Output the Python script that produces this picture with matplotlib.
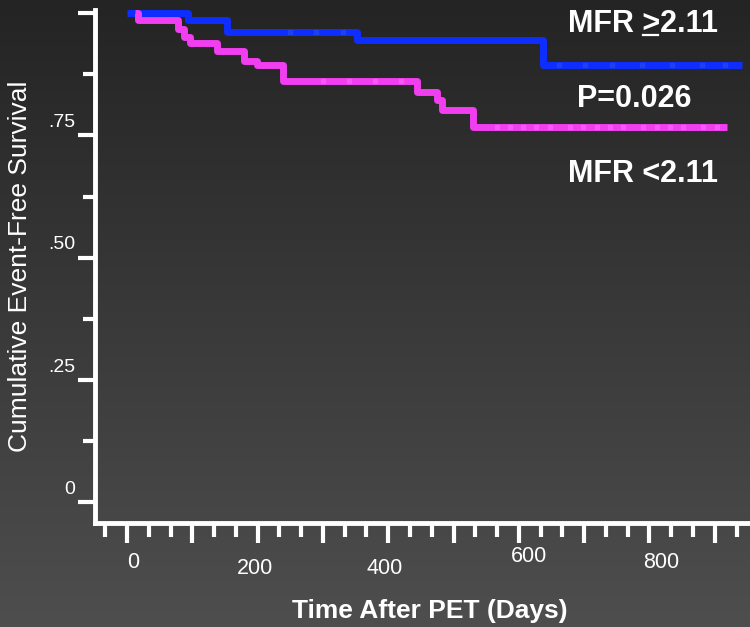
import numpy as np
import matplotlib
matplotlib.use('Agg')
import matplotlib.pyplot as plt
import matplotlib.transforms as mtransforms
from matplotlib.colors import LinearSegmentedColormap
from matplotlib.lines import Line2D

plt.rcParams['font.family'] = ['Liberation Sans', 'DejaVu Sans']

# ---------------- data ----------------
high_times = [0, 93, 153, 352, 637, 942]
high_surv = [1.0, 0.986, 0.961, 0.945, 0.894, 0.894]
high_censor = [250, 290, 330, 661, 701, 742, 788, 834, 880, 915]

low_times = [12, 17, 78, 88, 96, 138, 179, 199, 239, 444, 475, 482, 530, 919]
low_surv = [1.0, 0.986, 0.967, 0.951, 0.939, 0.922, 0.902, 0.894, 0.861,
            0.839, 0.822, 0.802, 0.767, 0.767]
low_censor = [300, 340, 380, 420, 567, 586, 606, 627, 647, 678, 698, 719,
              739, 759, 790, 811, 831, 851, 882, 903]

y_major = [0, 0.25, 0.5, 0.75, 1.0]
y_major_labels = ['0', '.25', '.50', '.75', '']
y_minor = [0.125, 0.375, 0.625, 0.875]
x_major = list(range(0, 901, 100))
x_tick_labels = ['0', '200', '400', '600', '800']
x_label_pos = [9, 196, 395, 616, 818]
x_label_ypx = [563, 568, 568, 557, 562]

W, H = 750, 627
fig = plt.figure(figsize=(W / 100, H / 100), dpi=100)

# background gradient
bg = fig.add_axes([0, 0, 1, 1])
cmap = LinearSegmentedColormap.from_list('bg', ['#242424', '#393939', '#4e4e4e'])
grad = np.linspace(0, 1, 256).reshape(-1, 1)
bg.imshow(grad, aspect='auto', cmap=cmap, extent=[0, 1, 0, 1], origin='upper')
bg.axis('off')

ax = fig.add_axes([95 / W, 1 - 523 / H, (W - 95) / W, (523 - 10) / H])
ax.patch.set_alpha(0)
ax.set_xlim(-49, 954)
ax.set_ylim(-0.0419, 1.0061)

for s in ['top', 'right']:
    ax.spines[s].set_visible(False)
for s in ['left', 'bottom']:
    ax.spines[s].set_color('white')
    ax.spines[s].set_linewidth(3.5)
    ax.spines[s].set_capstyle('projecting')

blue = '#0e2eff'
pink = '#f03ef0'


def surv_at(times, surv, t):
    i = np.searchsorted(times, t, side='right') - 1
    return surv[max(i, 0)]


ax.step(high_times, high_surv, where='post', color=blue, lw=5,
        solid_capstyle='butt', zorder=3)
ax.plot(high_censor, [surv_at(high_times, high_surv, t) for t in high_censor],
        linestyle='none', marker='s', ms=2.6, color='#2040f0', zorder=4)

ax.step(low_times, low_surv, where='post', color=pink, lw=5,
        solid_capstyle='butt', zorder=3)
ax.plot(low_censor, [surv_at(low_times, low_surv, t) for t in low_censor],
        linestyle='none', marker='s', ms=2.6, color='#f558f5', zorder=4)

# ticks
ax.set_xticks(x_major)
ax.set_xticks(np.arange(-100 / 3, 954, 100 / 3), minor=True)
ax.tick_params(axis='x', which='major', length=14.4, width=3, color='white',
               direction='out', labelbottom=False)
ax.tick_params(axis='x', which='minor', length=10, width=3, color='white',
               direction='out')
ax.set_yticks(y_major, labels=y_major_labels)
ax.set_yticks(y_minor, minor=True)
ax.tick_params(axis='y', which='major', length=12.2, width=3, color='white',
               direction='out', pad=2.2, labelsize=14, labelcolor='white')
ax.tick_params(axis='y', which='minor', length=8.6, width=3, color='white',
               direction='out')
offset = mtransforms.ScaledTranslation(0, 15 / 100, fig.dpi_scale_trans)
for lab in ax.yaxis.get_majorticklabels():
    lab.set_transform(lab.get_transform() + offset)

# x tick labels
for lab, xp, ypx in zip(x_tick_labels, x_label_pos, x_label_ypx):
    tr = mtransforms.blended_transform_factory(ax.transData, fig.transFigure)
    ax.text(xp, 1 - ypx / H, lab, transform=tr, ha='center', va='center',
            color='white', fontsize=15.5)


def px(x, y):
    return x / W, 1 - y / H


# axis titles
fig.text(*px(27, 266), 'Cumulative Event-Free Survival', rotation=90,
         rotation_mode='anchor', ha='center', va='baseline', color='white',
         fontsize=19)
fig.text(*px(430, 618), 'Time After PET (Days)', ha='center', va='baseline',
         color='white', fontsize=19, fontweight='bold')

# annotations
props = dict(color='white', fontsize=22, fontweight='bold')
t_hi = fig.text(*px(642.5, 32), 'MFR >2.11', ha='center', va='baseline', **props)
fig.text(*px(634, 107), 'P=0.026', ha='center', va='baseline', **props)
fig.text(*px(642.5, 182), 'MFR <2.11', ha='center', va='baseline', **props)

# underline under ">" (to render as "greater than or equal")
renderer = fig.canvas.get_renderer()
full_bb = t_hi.get_window_extent(renderer)
tmp = fig.text(0, 0, 'MFR >', **props)
w1 = tmp.get_window_extent(renderer).width
tmp.set_text('>')
w2 = tmp.get_window_extent(renderer).width
tmp.remove()
x_right = full_bb.x0 + w1
x_left = x_right - w2
fig.add_artist(Line2D([x_left / W + 0.002, x_right / W - 0.002],
                      [1 - 34.5 / H, 1 - 34.5 / H], transform=fig.transFigure,
                      color='white', lw=1.6))

fig.savefig('out.png', dpi=100)
